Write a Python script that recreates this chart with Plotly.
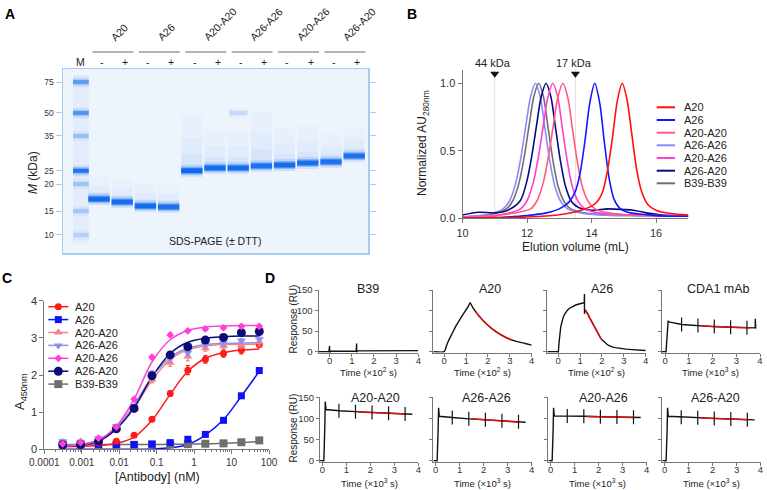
import plotly.graph_objects as go

W, H = 767, 490
FONT = "Liberation Sans, Arial, sans-serif"

# ---------------- Panel A: SDS-PAGE ----------------
gel_groups = ["A20", "A26", "A20-A20", "A26-A26", "A20-A26", "A26-A20"]
gel_lane_sign = ["-", "+", "-", "+", "-", "+", "-", "+", "-", "+", "-", "+"]
gel_lane = [1, 2, 3, 4, 5, 6, 7, 8, 9, 10, 11, 12]
gel_marker_lane = 0.22
gel_marker_kda = [75, 50, 35, 25, 20, 15, 10]
gel_marker_mig = [0.071, 0.239, 0.364, 0.553, 0.625, 0.772, 0.902]
gel_marker_int = [0.5, 0.55, 0.25, 0.85, 0.22, 0.2, 0.15]
gel_sample_mig = [0.707, 0.723, 0.745, 0.750, 0.553, 0.538, 0.538, 0.527, 0.522, 0.511, 0.505, 0.473]
gel_sample_int = [0.95, 0.92, 0.95, 0.9, 1.0, 0.95, 0.95, 0.88, 0.95, 0.9, 0.88, 0.88]
gel_sample_smear = [0.12, 0.12, 0.12, 0.12, 0.3, 0.2, 0.2, 0.3, 0.2, 0.2, 0.15, 0.15]
gel_faint_lane = [7]
gel_faint_mig = [0.239]
gel_faint_int = [0.12]

# ---------------- Panel B: SEC ----------------
sec_names = ["A20", "A26", "A20-A20", "A26-A26", "A20-A26", "A26-A20", "B39-B39"]
sec_colors = ["#ff1010", "#1515ff", "#ff5a80", "#8a8aff", "#ff3fcf", "#0a0a80", "#707070"]
sec_A20_x = [10.0, 11.0, 12.0, 12.95, 13.45, 13.75, 14.0, 14.2, 14.35, 14.5, 14.65, 14.8, 14.95, 15.1, 15.25, 15.4, 15.55, 15.75, 16.0, 16.45, 17.0]
sec_A20_y = [0.0, 0.003, 0.01, 0.025, 0.045, 0.065, 0.09, 0.13, 0.2, 0.36, 0.6, 0.87, 1.0, 0.88, 0.62, 0.36, 0.2, 0.1, 0.06, 0.035, 0.025]
sec_A26_x = [10.0, 11.0, 12.0, 12.6, 13.0, 13.3, 13.5, 13.65, 13.8, 13.95, 14.1, 14.25, 14.4, 14.55, 14.7, 14.9, 15.2, 15.6, 16.0, 17.0]
sec_A26_y = [0.0, 0.005, 0.02, 0.04, 0.07, 0.12, 0.2, 0.34, 0.58, 0.86, 1.0, 0.86, 0.56, 0.29, 0.14, 0.07, 0.04, 0.03, 0.02, 0.015]
sec_A20A20_x = [10.0, 11.0, 12.11, 12.31, 12.51, 12.66, 12.81, 12.96, 13.11, 13.26, 13.41, 13.56, 13.71, 13.91, 14.11, 14.51, 15.11, 16.0, 17.0]
sec_A20A20_y = [0.01, 0.02, 0.07, 0.13, 0.27, 0.45, 0.68, 0.9, 1.0, 0.9, 0.66, 0.42, 0.24, 0.12, 0.07, 0.04, 0.025, 0.02, 0.015]
sec_A26A26_x = [10.0, 10.8, 11.26, 11.46, 11.66, 11.81, 11.96, 12.11, 12.26, 12.41, 12.56, 12.71, 12.86, 13.06, 13.26, 13.66, 14.26, 15.5, 17.0]
sec_A26A26_y = [0.01, 0.03, 0.07, 0.13, 0.27, 0.45, 0.68, 0.9, 1.0, 0.9, 0.66, 0.42, 0.24, 0.12, 0.07, 0.04, 0.025, 0.02, 0.015]
sec_A20A26_x = [10.0, 11.0, 11.8, 12.0, 12.2, 12.35, 12.5, 12.65, 12.8, 12.95, 13.1, 13.25, 13.4, 13.6, 13.8, 14.2, 14.8, 16.0, 17.0]
sec_A20A26_y = [0.01, 0.02, 0.07, 0.13, 0.27, 0.45, 0.68, 0.9, 1.0, 0.9, 0.66, 0.42, 0.24, 0.12, 0.07, 0.04, 0.03, 0.02, 0.015]
sec_A26A20_x = [10.0, 10.5, 11.0, 11.4, 11.79, 11.99, 12.14, 12.29, 12.44, 12.59, 12.74, 12.89, 13.04, 13.19, 13.39, 13.6, 14.0, 14.5, 15.0, 15.3, 15.7, 16.2, 17.0]
sec_A26A20_y = [0.025, 0.045, 0.04, 0.06, 0.13, 0.27, 0.45, 0.68, 0.9, 1.0, 0.9, 0.66, 0.42, 0.24, 0.12, 0.08, 0.06, 0.07, 0.065, 0.06, 0.04, 0.025, 0.02]
sec_B39_x = [10.0, 10.9, 11.36, 11.56, 11.76, 11.91, 12.06, 12.21, 12.36, 12.51, 12.66, 12.81, 12.96, 13.16, 13.36, 13.76, 14.36, 15.5, 17.0]
sec_B39_y = [0.01, 0.03, 0.07, 0.13, 0.27, 0.45, 0.68, 0.9, 1.0, 0.9, 0.66, 0.42, 0.24, 0.12, 0.07, 0.04, 0.025, 0.02, 0.015]
sec_standard_ml = [11.0, 13.5]
sec_standard_label = ["44 kDa", "17 kDa"]

# ---------------- Panel C: ELISA ----------------
elisa_conc = [0.00031, 0.00093, 0.0028, 0.0084, 0.025, 0.075, 0.23, 0.68, 2.0, 6.1, 18.3, 55.0]
elisa_tick_vals = [0.0001, 0.001, 0.01, 0.1, 1, 10, 100]
elisa_tick_text = ["0.0001", "0.001", "0.01", "0.1", "1", "10", "100"]
el_A20 = [0.15, 0.16, 0.17, 0.22, 0.38, 0.81, 1.50, 2.13, 2.42, 2.58, 2.67, 2.82]
el_A20_err = [0.02, 0.02, 0.02, 0.03, 0.03, 0.05, 0.06, 0.12, 0.1, 0.1, 0.1, 0.07]
el_A20_fit = [0.07, 0.08, 0.1, 0.16, 0.33, 0.78, 1.48, 2.1, 2.45, 2.6, 2.67, 2.7]
el_A26 = [0.16, 0.13, 0.13, 0.13, 0.13, 0.14, 0.18, 0.27, 0.40, 0.78, 1.44, 2.12]
el_A26_err = [0.02, 0.02, 0.02, 0.02, 0.02, 0.02, 0.02, 0.03, 0.04, 0.05, 0.06, 0.06]
el_A26_fit = [0.0, 0.0, 0.0, 0.0, 0.0, 0.01, 0.04, 0.13, 0.38, 0.8, 1.43, 2.1]
el_A20A20 = [0.2, 0.22, 0.28, 0.55, 1.1, 1.87, 2.33, 2.5, 2.72, 2.78, 2.8, 2.88]
el_A20A20_err = [0.03, 0.03, 0.03, 0.04, 0.05, 0.08, 0.1, 0.12, 0.08, 0.08, 0.08, 0.1]
el_A20A20_fit = [0.1, 0.12, 0.22, 0.55, 1.12, 1.85, 2.42, 2.68, 2.78, 2.82, 2.83, 2.83]
el_A26A26 = [0.22, 0.2, 0.3, 0.62, 1.15, 2.05, 2.45, 2.6, 2.82, 2.85, 2.92, 2.96]
el_A26A26_err = [0.03, 0.03, 0.03, 0.04, 0.05, 0.06, 0.06, 0.06, 0.06, 0.06, 0.06, 0.06]
el_A26A26_fit = [0.1, 0.13, 0.25, 0.6, 1.2, 1.95, 2.48, 2.72, 2.82, 2.85, 2.86, 2.87]
el_A20A26 = [0.15, 0.18, 0.3, 0.6, 1.35, 2.48, 3.08, 3.19, 3.24, 3.27, 3.31, 3.31]
el_A20A26_err = [0.02, 0.02, 0.02, 0.03, 0.04, 0.05, 0.05, 0.04, 0.04, 0.04, 0.04, 0.04]
el_A20A26_fit = [0.08, 0.12, 0.25, 0.62, 1.35, 2.35, 2.95, 3.2, 3.29, 3.32, 3.33, 3.33]
el_A26A20 = [0.12, 0.13, 0.22, 0.55, 1.1, 1.98, 2.54, 2.76, 2.94, 3.01, 3.14, 3.17]
el_A26A20_err = [0.02, 0.02, 0.02, 0.03, 0.04, 0.05, 0.06, 0.06, 0.06, 0.06, 0.06, 0.06]
el_A26A20_fit = [0.08, 0.1, 0.22, 0.55, 1.12, 1.95, 2.58, 2.88, 2.99, 3.03, 3.05, 3.05]
el_B39 = [0.12, 0.12, 0.12, 0.12, 0.12, 0.13, 0.13, 0.14, 0.15, 0.16, 0.19, 0.24]
el_B39_err = [0.01] * 12
el_B39_fit = [0.13, 0.13, 0.13, 0.13, 0.13, 0.13, 0.135, 0.14, 0.15, 0.16, 0.18, 0.21]
el_colors = ["#ff1a1a", "#1010ff", "#f48585", "#9090ee", "#ff40d8", "#0c0c78", "#6e6e6e"]
el_symbols = ["circle", "square", "triangle-up", "triangle-down", "diamond", "circle", "square"]
el_sizes = [7, 7, 8, 8, 6, 9, 8]

# ---------------- Panel D: SPR ----------------
spr_top_titles = ["B39", "A20", "A26", "CDA1 mAb"]
spr_bottom_titles = ["A20-A20", "A26-A26", "A20-A26", "A26-A20"]
spr_top_units = ["2", "2", "2", "3"]
spr_B39_t = [-0.5, -0.03, 0.0, 0.0, 0.03, 0.3, 0.8, 1.2, 1.22, 1.22, 1.26, 1.6, 2.2, 2.8, 3.4, 4.0]
spr_B39_r = [0.0, 0.0, 14.0, -8.0, 1.0, 1.0, 1.0, 1.5, 20.0, -2.0, 2.0, 2.0, 2.5, 2.5, 2.5, 2.5]
spr_A20_t = [-0.5, 0.0, 0.1, 0.2, 0.38, 0.53, 0.69, 0.85, 1.0, 1.1, 1.18, 1.3, 1.54, 1.92, 2.38, 2.84, 3.3, 3.7, 4.0]
spr_A20_r = [0, 0, 14, 27, 46, 62, 76, 90, 102, 110, 119, 108, 90, 68, 48, 34, 25, 20, 16]
spr_A20_fit_t = [1.45, 1.54, 1.92, 2.38, 2.84, 3.1]
spr_A20_fit_r = [97, 90, 68, 48, 34, 28.5]
spr_A26_t = [-0.5, -0.02, 0.0, 0.0, 0.02, 0.04, 0.06, 0.08, 0.11, 0.15, 0.19, 0.23, 0.29, 0.35, 0.42, 0.5, 0.6, 0.7, 0.8, 0.95, 1.1, 1.19,
             1.2, 1.2, 1.21, 1.25, 1.31, 1.37, 1.42, 1.48, 1.54, 1.6, 1.66, 1.72, 1.77, 1.83, 1.88, 1.94, 2.0, 2.08, 2.15, 2.23, 2.3,
             2.4, 2.5, 2.62, 2.76, 2.93, 3.1, 3.38, 3.7, 4.0]
spr_A26_r = [0, 0, -5, 3, 10, 24, 37, 47, 58, 68, 77, 84, 91, 96, 101, 105, 108.5, 111.5, 113.5, 116, 118, 119,
             140, 92, 100, 100, 96, 90, 84, 78, 72, 66, 60, 54, 48, 43, 38, 33, 29, 24.5, 21, 18, 15.5,
             13, 11, 9.8, 8.5, 7.2, 6.2, 5, 4, 3]
spr_A26_fit_t = [1.25, 1.31, 1.37, 1.42, 1.48, 1.54, 1.6, 1.66, 1.72, 1.77, 1.83, 1.88, 1.94, 2.0]
spr_A26_fit_r = [100, 96, 90, 84, 78, 72, 66, 60, 54, 48, 43, 38, 33, 29]
spr_CDA1_t = [-0.15, 0.0, 0.03, 0.08, 0.12, 0.2, 0.4, 0.7, 1.0, 1.4, 2.0, 2.5, 3.0, 3.5, 3.8, 3.8, 3.82]
spr_CDA1_r = [0, 0, -3, 40, 74, 72, 69, 66, 65, 63, 61, 60, 59, 58, 58, 80, 56]
spr_CDA1_fit_t = [1.5, 2.0, 2.5, 3.0, 3.6]
spr_CDA1_fit_r = [62.8, 61, 60, 59, 58]
spr_CDA1_mark_r = [66, 63.5, 61.5, 59.5, 58]
spr_mark_t = [0.69, 1.38, 2.07, 2.76, 3.45]
spr_plateau_t = [-0.1, 0.0, 0.03, 0.06, 0.1, 0.12, 0.15, 0.3, 0.69, 1.38, 2.07, 2.76, 3.45, 3.75]
spr_A20A20_r = [0, 0, -6, 0, 80, 140, 121, 120, 118, 116, 114, 112, 110.5, 110]
spr_A26A26_r = [0, 0, -6, 0, 70, 125, 105, 104, 102, 99, 97, 94.5, 92, 91]
spr_A20A26_r = [0, 0, -6, 0, 70, 125, 106, 106, 105.5, 105, 104, 103.5, 102.5, 102]
spr_A26A20_r = [0, 0, -6, 0, 70, 125, 105, 104.5, 103, 101.5, 100, 98.5, 97, 96.5]
spr_A20A20_mark = [118, 116, 114, 112, 110.5]
spr_A26A26_mark = [102, 99, 97, 94.5, 92]
spr_A20A26_mark = [105.5, 105, 104, 103.5, 102.5]
spr_A26A20_mark = [103, 101.5, 100, 98.5, 97]
spr_fit_t = [1.5, 2.5, 3.5]
spr_A20A20_fit = [115, 112.5, 110.2]
spr_A26A26_fit = [99, 95, 91]
spr_A20A26_fit = [104.6, 103.6, 102.4]
spr_A26A20_fit = [101, 99, 97]

# =========================================================
fig = go.Figure()
AX = "#777777"
TXT = "#222222"


def xdom(l, r):
    return [l / W, r / W]


def ydom(t, b):
    return [1 - b / H, 1 - t / H]


def axis(dom, rng, **kw):
    d = dict(domain=dom, range=rng, autorange=False, automargin=False, showgrid=False, zeroline=False,
             showline=True, linecolor=AX, linewidth=1, ticks="outside", ticklen=3,
             tickcolor=AX, tickwidth=1, tickfont=dict(family=FONT, size=10, color="#333"),
             fixedrange=True)
    d.update(kw)
    return d


layout = dict(width=W, height=H, autosize=False, margin=dict(l=0, r=0, t=0, b=0, pad=0),
              paper_bgcolor="white", plot_bgcolor="rgba(0,0,0,0)", showlegend=False,
              font=dict(family=FONT, size=10, color=TXT))


def set_axes(i, xa, ya):
    xk = "xaxis" if i == 1 else f"xaxis{i}"
    yk = "yaxis" if i == 1 else f"yaxis{i}"
    xa["anchor"] = "y" if i == 1 else f"y{i}"
    ya["anchor"] = "x" if i == 1 else f"x{i}"
    layout[xk] = xa
    layout[yk] = ya


def ref(i):
    return ("x", "y") if i == 1 else (f"x{i}", f"y{i}")


annotations = []
shapes = []


def text(t, x, y, size, color=TXT, xanchor="center", yanchor="middle", **kw):
    annotations.append(dict(text=t, x=x / W, y=1 - y / H, xref="paper", yref="paper", showarrow=False,
                            font=dict(family=FONT, size=size, color=color), xanchor=xanchor,
                            yanchor=yanchor, **kw))


# ---------------- Panel A ----------------
GEL_L, GEL_R, GEL_T, GEL_B = 63, 368, 69, 253
GEL_XR = [-0.552, 12.595]


def lane_px(v):
    return GEL_L + (v - GEL_XR[0]) * (GEL_R - GEL_L) / (GEL_XR[1] - GEL_XR[0])


GEL_LINE = "#a6cdef"
BAND = "12,104,236"
set_axes(1,
         axis(xdom(GEL_L, GEL_R), GEL_XR, showticklabels=False, ticks="", mirror=True,
              linecolor=GEL_LINE, linewidth=1.5),
         axis(ydom(GEL_T, GEL_B), [1, 0], tickvals=gel_marker_mig, ticktext=[str(k) for k in gel_marker_kda],
              mirror="ticks", linecolor=GEL_LINE, linewidth=1.5, tickcolor=GEL_LINE, ticklen=6,
              tickfont=dict(family=FONT, size=8.5, color="#333")))
shapes.append(dict(type="rect", xref="x domain", yref="y domain", x0=0, x1=1, y0=0, y1=1,
                   fillcolor="#eef4fc", line=dict(width=0), layer="below"))

xa, ya = ref(1)
fig.add_trace(go.Scatter(x=[gel_marker_lane - 0.34, gel_marker_lane + 0.34, gel_marker_lane + 0.34, gel_marker_lane - 0.34],
                         y=[0.03, 0.03, 0.95, 0.95], fill="toself", fillcolor=f"rgba({BAND},0.045)",
                         line=dict(width=0), mode="lines", xaxis=xa, yaxis=ya, hoverinfo="skip"))
for lane, mig, sm in zip(gel_lane, gel_sample_mig, gel_sample_smear):
    for f, a in [(1.0, 0.025), (0.6, 0.03), (0.3, 0.04)]:
        fig.add_trace(go.Scatter(x=[lane - 0.45, lane + 0.45, lane + 0.45, lane - 0.45],
                                 y=[mig - sm * f, mig - sm * f, mig, mig], fill="toself",
                                 fillcolor=f"rgba({BAND},{a})", line=dict(width=0), mode="lines",
                                 xaxis=xa, yaxis=ya, hoverinfo="skip"))


def gel_band(xc, hw, mig, inten, core=6):
    for extra, a in [(7, 0.15), (3, 0.35)]:
        fig.add_trace(go.Scatter(x=[xc - hw, xc + hw], y=[mig, mig], mode="lines",
                                 line=dict(color=f"rgba({BAND},{a * inten:.3f})", width=core + extra),
                                 xaxis=xa, yaxis=ya, hoverinfo="skip"))
    fig.add_trace(go.Scatter(x=[xc - hw, xc + hw], y=[mig, mig], mode="lines",
                             line=dict(color=f"rgba({BAND},{inten:.3f})", width=core),
                             xaxis=xa, yaxis=ya, hoverinfo="skip"))


for mig, inten in zip(gel_marker_mig, gel_marker_int):
    gel_band(gel_marker_lane, 0.34, mig, inten, core=4)
for lane, mig, inten in zip(gel_lane, gel_sample_mig, gel_sample_int):
    gel_band(lane, 0.46, mig, inten, core=5)
for lane, mig, inten in zip(gel_faint_lane, gel_faint_mig, gel_faint_int):
    gel_band(lane, 0.4, mig, inten, core=4)

text("M", lane_px(gel_marker_lane), 62, 10.5)
for lane, s in zip(gel_lane, gel_lane_sign):
    text(s, lane_px(lane + 0.12), 62, 10.5)
for k, g in enumerate(gel_groups):
    mid = (gel_lane[2 * k] + gel_lane[2 * k + 1]) / 2 + 0.1
    shapes.append(dict(type="line", xref="paper", yref="paper", x0=lane_px(mid - 0.88) / W, x1=lane_px(mid + 0.88) / W,
                       y0=1 - 52 / H, y1=1 - 52 / H, line=dict(color="#666", width=1)))
    text(g, lane_px(mid - 0.3), 46, 10.5, xanchor="left", yanchor="bottom", textangle=-45)
text("SDS-PAGE (± DTT)", 215, 241, 10.5)
text("<i>M</i> (kDa)", 33, 173, 12, textangle=-90)

# ---------------- Panel B ----------------
B_L, B_R = 462.5, 688.3
B_XR = [10, 17]
set_axes(2,
         axis(xdom(B_L, B_R), B_XR, tickvals=[10, 12, 14, 16], ticklen=4,
              tickfont=dict(family=FONT, size=11, color="#333")),
         axis(ydom(69.8, 218.3), [0, 1.1], tickvals=[0, 0.5, 1.0], ticktext=["0.0", "0.5", "1.0"], ticklen=4,
              tickfont=dict(family=FONT, size=11, color="#333")))
xa, ya = ref(2)
for v in sec_standard_ml:
    fig.add_trace(go.Scatter(x=[v, v], y=[0, 1.1], mode="lines", line=dict(color="#e0e0e0", width=1),
                             xaxis=xa, yaxis=ya, hoverinfo="skip"))
fig.add_trace(go.Scatter(x=sec_standard_ml, y=[1.07, 1.07], mode="markers",
                         marker=dict(symbol="triangle-down", size=8, color="#111"), cliponaxis=False,
                         xaxis=xa, yaxis=ya, hoverinfo="skip"))
sec_x = [sec_A20_x, sec_A26_x, sec_A20A20_x, sec_A26A26_x, sec_A20A26_x, sec_A26A20_x, sec_B39_x]
sec_y = [sec_A20_y, sec_A26_y, sec_A20A20_y, sec_A26A26_y, sec_A20A26_y, sec_A26A20_y, sec_B39_y]
for k in [6, 3, 5, 4, 2, 1, 0]:
    fig.add_trace(go.Scatter(x=sec_x[k], y=sec_y[k], mode="lines",
                             line=dict(color=sec_colors[k], width=1.6, shape="spline", smoothing=0.8),
                             xaxis=xa, yaxis=ya, name=sec_names[k]))
for v, lab in zip(sec_standard_ml, sec_standard_label):
    px = B_L + (v - 0.05 - B_XR[0]) * (B_R - B_L) / (B_XR[1] - B_XR[0])
    text(lab, px, 63, 11)
text("Normalized AU<sub>280nm</sub>", 423, 143, 12, textangle=-90)
text("Elution volume (mL)", 575, 247, 12)

# ---------------- Panel C ----------------
minor_vals = [m * 10 ** e for e in range(-4, 2) for m in range(2, 10)]
set_axes(3,
         axis(xdom(44.3, 269), [-4, 2], type="log", tickvals=elisa_tick_vals, ticktext=elisa_tick_text,
              ticklen=4, tickfont=dict(family=FONT, size=10, color="#333"),
              minor=dict(tickvals=minor_vals, ticks="outside", ticklen=2, tickcolor=AX, tickwidth=1)),
         axis(ydom(300.7, 449.3), [0, 4], tickvals=[0, 1, 2, 3, 4], ticklen=4,
              tickfont=dict(family=FONT, size=11, color="#333")))
xa, ya = ref(3)
el_vals = [el_A20, el_A26, el_A20A20, el_A26A26, el_A20A26, el_A26A20, el_B39]
el_errs = [el_A20_err, el_A26_err, el_A20A20_err, el_A26A26_err, el_A20A26_err, el_A26A20_err, el_B39_err]
el_fits = [el_A20_fit, el_A26_fit, el_A20A20_fit, el_A26A26_fit, el_A20A26_fit, el_A26A20_fit, el_B39_fit]
for k in [6, 1, 0, 2, 3, 5, 4]:
    fig.add_trace(go.Scatter(x=elisa_conc, y=el_fits[k], mode="lines",
                             line=dict(color=el_colors[k], width=1.5, shape="spline", smoothing=1.0),
                             xaxis=xa, yaxis=ya, hoverinfo="skip"))
for k in [6, 1, 0, 2, 3, 5, 4]:
    fig.add_trace(go.Scatter(x=elisa_conc, y=el_vals[k], mode="markers",
                             marker=dict(symbol=el_symbols[k], size=el_sizes[k], color=el_colors[k]),
                             error_y=dict(type="data", array=el_errs[k], color=el_colors[k], thickness=1.2, width=2),
                             xaxis=xa, yaxis=ya, name=sec_names[k], cliponaxis=False))
text("A<sub>450nm</sub>", 20, 392, 13, textangle=-90)
text("[Antibody] (nM)", 157, 477, 12.5)

# ---------------- Panel D ----------------
top_boxes = [(318.5, 418.3), (433.3, 531.7), (547.3, 645.7), (661.7, 760.0)]
bot_boxes = [(320.0, 418.3), (433.3, 531.7), (548.3, 646.7), (662.3, 760.5)]
top_ranges = [[-0.5, 4], [-0.5, 4], [-0.5, 4], [-0.15, 4]]
top_title_x = [368, 490, 601.7, 718.3]
bot_title_x = [375, 486.7, 603.3, 715]
dfont = dict(family=FONT, size=9.5, color="#333")

top_data = [(spr_B39_t, spr_B39_r, None, None, None),
            (spr_A20_t, spr_A20_r, spr_A20_fit_t, spr_A20_fit_r, None),
            (spr_A26_t, spr_A26_r, spr_A26_fit_t, spr_A26_fit_r, None),
            (spr_CDA1_t, spr_CDA1_r, spr_CDA1_fit_t, spr_CDA1_fit_r, spr_CDA1_mark_r)]
bot_data = [(spr_A20A20_r, spr_A20A20_fit, spr_A20A20_mark),
            (spr_A26A26_r, spr_A26A26_fit, spr_A26A26_mark),
            (spr_A20A26_r, spr_A20A26_fit, spr_A20A26_mark),
            (spr_A26A20_r, spr_A26A20_fit, spr_A26A20_mark)]


def spr_axes(i, box, rng, top, bottom, first):
    set_axes(i,
             axis(xdom(*box), rng, tickvals=[0, 1, 2, 3, 4], tickfont=dfont, ticklabelstandoff=-4),
             axis(ydom(top, bottom), [-2, 150], tickvals=[0, 50, 100, 150], showticklabels=first,
                  tickfont=dfont))


for j in range(4):
    i = 4 + j
    spr_axes(i, top_boxes[j], top_ranges[j], 290.0, 352.5, j == 0)
    xa, ya = ref(i)
    t, r, ft, fr, mr = top_data[j]
    shp = "spline" if j == 1 else "linear"
    fig.add_trace(go.Scatter(x=t, y=r, mode="lines", line=dict(color="#111", width=1.4, shape=shp, smoothing=0.6),
                             xaxis=xa, yaxis=ya, hoverinfo="skip"))
    if ft is not None:
        fig.add_trace(go.Scatter(x=ft, y=fr, mode="lines", line=dict(color="#e01010", width=1.5, shape=shp, smoothing=0.6),
                                 xaxis=xa, yaxis=ya, hoverinfo="skip"))
    if mr is not None:
        fig.add_trace(go.Scatter(x=spr_mark_t, y=mr, mode="markers",
                                 marker=dict(symbol="line-ns", size=10, line=dict(color="#111", width=1.2)),
                                 xaxis=xa, yaxis=ya, hoverinfo="skip"))
    cx = (top_boxes[j][0] + top_boxes[j][1]) / 2
    text(f"Time (×10<sup>{spr_top_units[j]}</sup> s)", cx, 372, 9.5)
    text(spr_top_titles[j], top_title_x[j], 289, 12.5)

for j in range(4):
    i = 8 + j
    spr_axes(i, bot_boxes[j], [-0.1, 4], 397.3, 461.5, j == 0)
    xa, ya = ref(i)
    r, fr, mr = bot_data[j]
    fig.add_trace(go.Scatter(x=spr_plateau_t, y=r, mode="lines", line=dict(color="#111", width=1.4),
                             xaxis=xa, yaxis=ya, hoverinfo="skip"))
    fig.add_trace(go.Scatter(x=spr_fit_t, y=fr, mode="lines", line=dict(color="#e01010", width=1.5),
                             xaxis=xa, yaxis=ya, hoverinfo="skip"))
    fig.add_trace(go.Scatter(x=spr_mark_t, y=mr, mode="markers",
                             marker=dict(symbol="line-ns", size=10, line=dict(color="#111", width=1.2)),
                             xaxis=xa, yaxis=ya, hoverinfo="skip"))
    cx = (bot_boxes[j][0] + bot_boxes[j][1]) / 2
    text("Time (×10<sup>3</sup> s)", cx, 482.5, 9.5)
    text(spr_bottom_titles[j], bot_title_x[j], 398, 12.5)

text("Response (RU)", 292.5, 319, 10, textangle=-90)
text("Response (RU)", 292.5, 428, 10, textangle=-90)

# ---------------- overlay (pixel space) for legends ----------------
set_axes(12, dict(domain=[0, 1], range=[0, W], visible=False, fixedrange=True, automargin=False,
                  showgrid=False, zeroline=False),
         dict(domain=[0, 1], range=[H, 0], visible=False, fixedrange=True, automargin=False,
              showgrid=False, zeroline=False))
xa, ya = ref(12)
leg_b_y = [107.3, 120.0, 132.7, 145.3, 158.0, 170.7, 183.3]
for k, yy in enumerate(leg_b_y):
    fig.add_trace(go.Scatter(x=[656.7, 675], y=[yy, yy], mode="lines", line=dict(color=sec_colors[k], width=2),
                             xaxis=xa, yaxis=ya, hoverinfo="skip"))
    text(sec_names[k], 681.7, yy, 11, xanchor="left")
leg_c_y = [306.7, 319.6, 332.5, 345.4, 358.3, 371.2, 384.1]
for k, yy in enumerate(leg_c_y):
    fig.add_trace(go.Scatter(x=[48.3, 68.3], y=[yy, yy], mode="lines", line=dict(color=el_colors[k], width=1.5),
                             xaxis=xa, yaxis=ya, hoverinfo="skip"))
    fig.add_trace(go.Scatter(x=[58.3], y=[yy], mode="markers",
                             marker=dict(symbol=el_symbols[k], size=el_sizes[k], color=el_colors[k]),
                             xaxis=xa, yaxis=ya, hoverinfo="skip"))
    text(sec_names[k], 73.3, yy, 11, xanchor="left")

for lab, x, y in [("A", 10, 14), ("B", 411.7, 14), ("C", 7.3, 277.7), ("D", 270, 277.7)]:
    text(f"<b>{lab}</b>", x, y, 14, color="#000")

layout["annotations"] = annotations
layout["shapes"] = shapes
fig.update_layout(**layout)
fig.write_html("out.html", config={"displayModeBar": False, "staticPlot": True},
               post_script="document.body.style.margin='0';document.body.style.padding='0';")
